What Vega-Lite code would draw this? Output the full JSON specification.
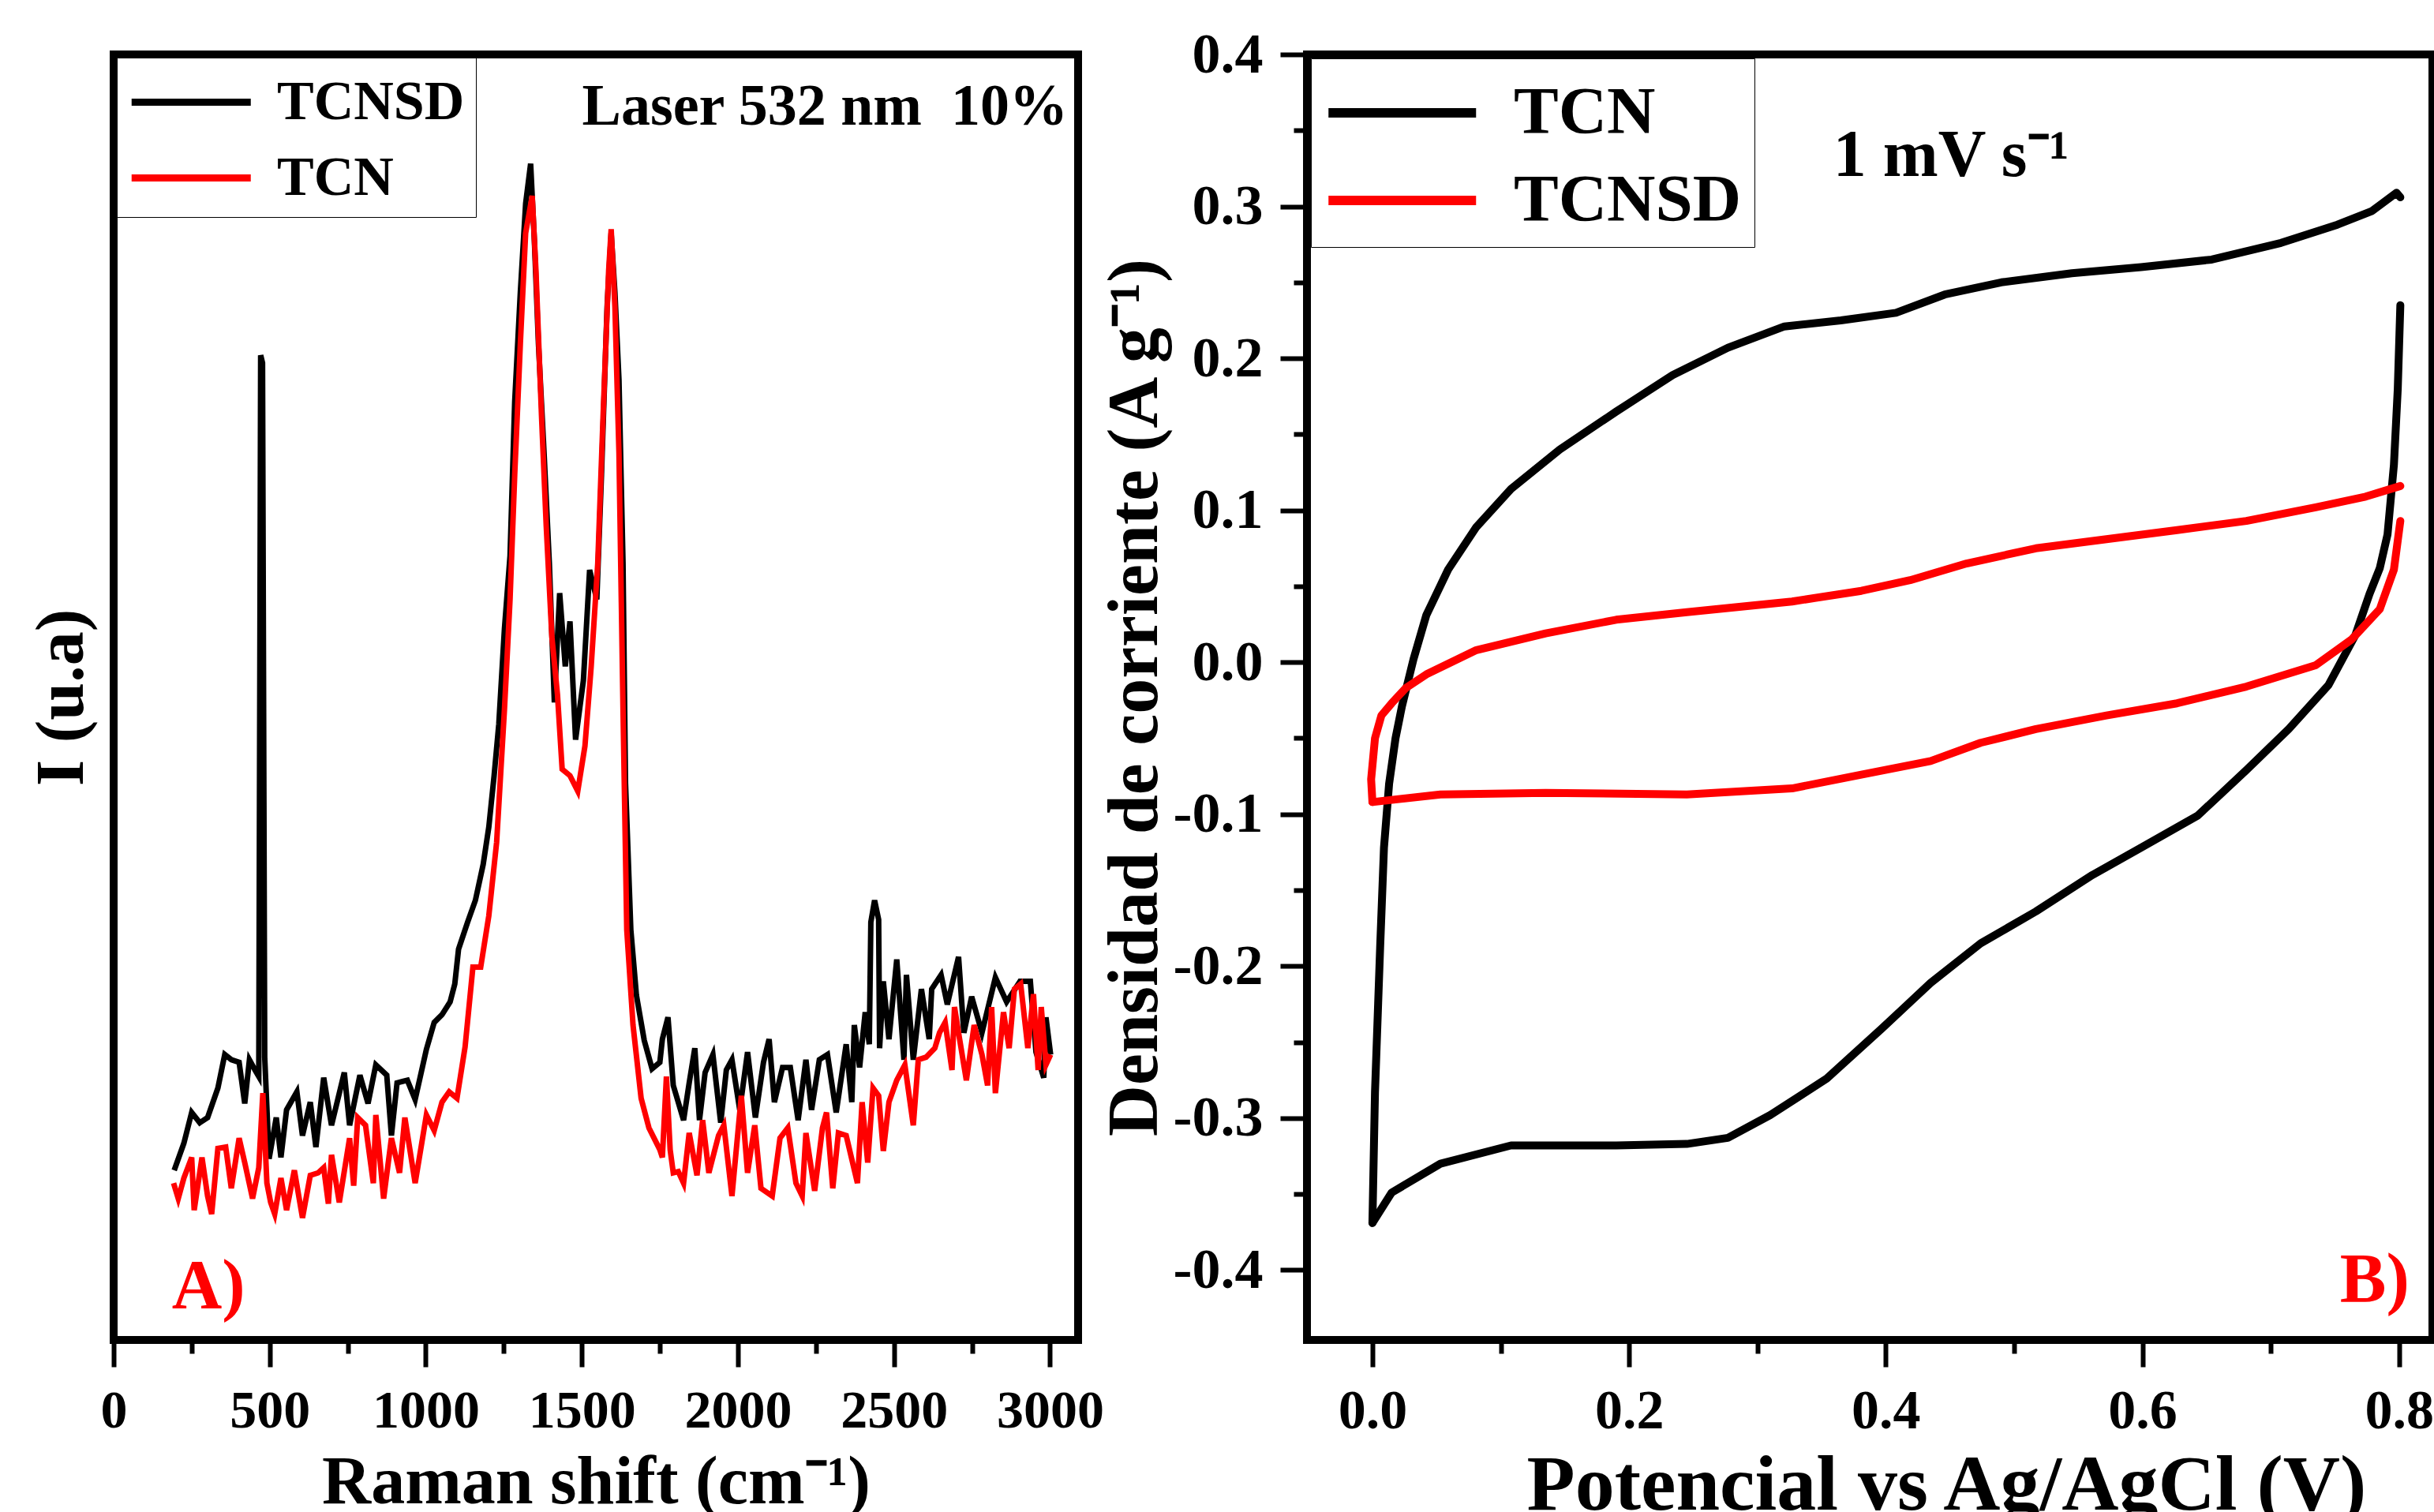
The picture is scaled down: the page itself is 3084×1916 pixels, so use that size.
{
  "$schema": "https://vega.github.io/schema/vega-lite/v6.json",
  "background": "white",
  "padding": {"left": 30, "top": 28, "right": 0, "bottom": 0},
  "spacing": -16,
  "datasets": {
    "raman": [
      {"s":"TCNSD","x":194,"y":13.2},{"s":"TCNSD","x":225,"y":15.3},{"s":"TCNSD","x":250,"y":17.7},{"s":"TCNSD","x":276,"y":16.9},{"s":"TCNSD","x":301,"y":17.3},{"s":"TCNSD","x":334,"y":19.6},{"s":"TCNSD","x":356,"y":22.2},{"s":"TCNSD","x":377,"y":21.8},{"s":"TCNSD","x":402,"y":21.6},{"s":"TCNSD","x":420,"y":18.4},{"s":"TCNSD","x":435,"y":21.8},{"s":"TCNSD","x":453,"y":21.0},{"s":"TCNSD","x":465,"y":20.5},{"s":"TCNSD","x":471,"y":76.6},{"s":"TCNSD","x":477,"y":76.0},{"s":"TCNSD","x":484,"y":22.0},{"s":"TCNSD","x":498,"y":14.1},{"s":"TCNSD","x":521,"y":17.3},{"s":"TCNSD","x":536,"y":14.2},{"s":"TCNSD","x":554,"y":17.9},{"s":"TCNSD","x":587,"y":19.3},{"s":"TCNSD","x":605,"y":15.9},{"s":"TCNSD","x":630,"y":18.5},{"s":"TCNSD","x":648,"y":15.0},{"s":"TCNSD","x":673,"y":20.4},{"s":"TCNSD","x":698,"y":16.7},{"s":"TCNSD","x":739,"y":20.8},{"s":"TCNSD","x":756,"y":16.7},{"s":"TCNSD","x":789,"y":20.6},{"s":"TCNSD","x":815,"y":18.4},{"s":"TCNSD","x":840,"y":21.4},{"s":"TCNSD","x":875,"y":20.6},{"s":"TCNSD","x":890,"y":15.9},{"s":"TCNSD","x":908,"y":20.0},{"s":"TCNSD","x":941,"y":20.2},{"s":"TCNSD","x":966,"y":18.7},{"s":"TCNSD","x":1002,"y":22.6},{"s":"TCNSD","x":1027,"y":24.7},{"s":"TCNSD","x":1052,"y":25.3},{"s":"TCNSD","x":1078,"y":26.3},{"s":"TCNSD","x":1093,"y":27.7},{"s":"TCNSD","x":1105,"y":30.4},{"s":"TCNSD","x":1134,"y":32.5},{"s":"TCNSD","x":1159,"y":34.2},{"s":"TCNSD","x":1184,"y":37.0},{"s":"TCNSD","x":1202,"y":39.9},{"s":"TCNSD","x":1219,"y":43.9},{"s":"TCNSD","x":1234,"y":47.9},{"s":"TCNSD","x":1252,"y":55.3},{"s":"TCNSD","x":1270,"y":61.0},{"s":"TCNSD","x":1285,"y":73.0},{"s":"TCNSD","x":1303,"y":81.5},{"s":"TCNSD","x":1320,"y":88.4},{"s":"TCNSD","x":1336,"y":91.5},{"s":"TCNSD","x":1348,"y":85.5},{"s":"TCNSD","x":1361,"y":77.5},{"s":"TCNSD","x":1379,"y":69.0},{"s":"TCNSD","x":1396,"y":60.4},{"s":"TCNSD","x":1412,"y":49.6},{"s":"TCNSD","x":1429,"y":58.1},{"s":"TCNSD","x":1447,"y":52.4},{"s":"TCNSD","x":1462,"y":55.9},{"s":"TCNSD","x":1480,"y":46.7},{"s":"TCNSD","x":1505,"y":51.3},{"s":"TCNSD","x":1525,"y":59.9},{"s":"TCNSD","x":1548,"y":57.6},{"s":"TCNSD","x":1563,"y":67.3},{"s":"TCNSD","x":1581,"y":80.4},{"s":"TCNSD","x":1594,"y":86.1},{"s":"TCNSD","x":1606,"y":81.5},{"s":"TCNSD","x":1619,"y":74.7},{"s":"TCNSD","x":1632,"y":60.4},{"s":"TCNSD","x":1640,"y":43.3},{"s":"TCNSD","x":1657,"y":31.9},{"s":"TCNSD","x":1675,"y":26.8},{"s":"TCNSD","x":1700,"y":23.3},{"s":"TCNSD","x":1725,"y":21.1},{"s":"TCNSD","x":1750,"y":21.6},{"s":"TCNSD","x":1758,"y":23.4},{"s":"TCNSD","x":1776,"y":25.1},{"s":"TCNSD","x":1793,"y":19.8},{"s":"TCNSD","x":1826,"y":17.1},{"s":"TCNSD","x":1844,"y":20.0},{"s":"TCNSD","x":1862,"y":22.7},{"s":"TCNSD","x":1877,"y":17.1},{"s":"TCNSD","x":1895,"y":20.8},{"s":"TCNSD","x":1920,"y":22.2},{"s":"TCNSD","x":1945,"y":16.9},{"s":"TCNSD","x":1963,"y":21.0},{"s":"TCNSD","x":1981,"y":21.8},{"s":"TCNSD","x":2006,"y":17.9},{"s":"TCNSD","x":2031,"y":22.4},{"s":"TCNSD","x":2056,"y":17.3},{"s":"TCNSD","x":2082,"y":21.6},{"s":"TCNSD","x":2100,"y":23.4},{"s":"TCNSD","x":2117,"y":18.5},{"s":"TCNSD","x":2143,"y":21.2},{"s":"TCNSD","x":2168,"y":21.2},{"s":"TCNSD","x":2193,"y":17.1},{"s":"TCNSD","x":2218,"y":21.8},{"s":"TCNSD","x":2236,"y":17.9},{"s":"TCNSD","x":2261,"y":21.8},{"s":"TCNSD","x":2287,"y":22.2},{"s":"TCNSD","x":2315,"y":17.7},{"s":"TCNSD","x":2347,"y":23.0},{"s":"TCNSD","x":2365,"y":18.5},{"s":"TCNSD","x":2373,"y":24.5},{"s":"TCNSD","x":2390,"y":21.2},{"s":"TCNSD","x":2408,"y":25.5},{"s":"TCNSD","x":2421,"y":23.0},{"s":"TCNSD","x":2426,"y":32.5},{"s":"TCNSD","x":2438,"y":34.2},{"s":"TCNSD","x":2451,"y":32.7},{"s":"TCNSD","x":2454,"y":22.7},{"s":"TCNSD","x":2466,"y":27.9},{"s":"TCNSD","x":2484,"y":23.4},{"s":"TCNSD","x":2509,"y":29.6},{"s":"TCNSD","x":2532,"y":21.8},{"s":"TCNSD","x":2540,"y":28.4},{"s":"TCNSD","x":2562,"y":21.8},{"s":"TCNSD","x":2588,"y":27.3},{"s":"TCNSD","x":2613,"y":23.4},{"s":"TCNSD","x":2621,"y":27.3},{"s":"TCNSD","x":2651,"y":28.4},{"s":"TCNSD","x":2671,"y":26.1},{"s":"TCNSD","x":2707,"y":29.8},{"s":"TCNSD","x":2724,"y":23.9},{"s":"TCNSD","x":2749,"y":26.7},{"s":"TCNSD","x":2782,"y":23.9},{"s":"TCNSD","x":2825,"y":28.2},{"s":"TCNSD","x":2861,"y":26.3},{"s":"TCNSD","x":2904,"y":27.9},{"s":"TCNSD","x":2937,"y":27.9},{"s":"TCNSD","x":2955,"y":22.4},{"s":"TCNSD","x":2980,"y":20.4},{"s":"TCNSD","x":2987,"y":25.1},{"s":"TCNSD","x":3002,"y":22.2},
      {"s":"TCN","x":192,"y":12.2},{"s":"TCN","x":207,"y":11.0},{"s":"TCN","x":225,"y":12.6},{"s":"TCN","x":250,"y":14.2},{"s":"TCN","x":258,"y":10.1},{"s":"TCN","x":283,"y":14.2},{"s":"TCN","x":301,"y":11.2},{"s":"TCN","x":314,"y":9.8},{"s":"TCN","x":334,"y":14.9},{"s":"TCN","x":359,"y":15.0},{"s":"TCN","x":377,"y":11.8},{"s":"TCN","x":402,"y":15.7},{"s":"TCN","x":420,"y":13.8},{"s":"TCN","x":445,"y":11.0},{"s":"TCN","x":465,"y":13.4},{"s":"TCN","x":478,"y":19.2},{"s":"TCN","x":491,"y":12.2},{"s":"TCN","x":503,"y":10.7},{"s":"TCN","x":516,"y":9.8},{"s":"TCN","x":536,"y":12.6},{"s":"TCN","x":554,"y":10.1},{"s":"TCN","x":579,"y":13.2},{"s":"TCN","x":605,"y":9.5},{"s":"TCN","x":630,"y":12.8},{"s":"TCN","x":655,"y":13.0},{"s":"TCN","x":673,"y":13.4},{"s":"TCN","x":688,"y":10.6},{"s":"TCN","x":698,"y":14.4},{"s":"TCN","x":723,"y":10.7},{"s":"TCN","x":756,"y":15.7},{"s":"TCN","x":769,"y":12.0},{"s":"TCN","x":782,"y":17.3},{"s":"TCN","x":807,"y":16.7},{"s":"TCN","x":832,"y":12.2},{"s":"TCN","x":840,"y":17.5},{"s":"TCN","x":865,"y":11.0},{"s":"TCN","x":890,"y":15.7},{"s":"TCN","x":916,"y":13.0},{"s":"TCN","x":933,"y":17.3},{"s":"TCN","x":966,"y":12.2},{"s":"TCN","x":1002,"y":17.5},{"s":"TCN","x":1027,"y":16.3},{"s":"TCN","x":1052,"y":18.5},{"s":"TCN","x":1075,"y":19.3},{"s":"TCN","x":1100,"y":18.8},{"s":"TCN","x":1126,"y":22.8},{"s":"TCN","x":1151,"y":29.0},{"s":"TCN","x":1176,"y":29.0},{"s":"TCN","x":1202,"y":33.0},{"s":"TCN","x":1227,"y":38.7},{"s":"TCN","x":1252,"y":49.0},{"s":"TCN","x":1270,"y":57.6},{"s":"TCN","x":1285,"y":67.3},{"s":"TCN","x":1303,"y":77.5},{"s":"TCN","x":1320,"y":86.1},{"s":"TCN","x":1341,"y":89.0},{"s":"TCN","x":1353,"y":83.2},{"s":"TCN","x":1371,"y":71.8},{"s":"TCN","x":1386,"y":63.3},{"s":"TCN","x":1404,"y":54.7},{"s":"TCN","x":1422,"y":50.2},{"s":"TCN","x":1437,"y":44.4},{"s":"TCN","x":1462,"y":43.9},{"s":"TCN","x":1487,"y":42.7},{"s":"TCN","x":1510,"y":46.2},{"s":"TCN","x":1530,"y":52.4},{"s":"TCN","x":1551,"y":60.4},{"s":"TCN","x":1568,"y":71.8},{"s":"TCN","x":1586,"y":83.2},{"s":"TCN","x":1594,"y":86.4},{"s":"TCN","x":1606,"y":80.4},{"s":"TCN","x":1619,"y":69.0},{"s":"TCN","x":1632,"y":49.0},{"s":"TCN","x":1644,"y":31.9},{"s":"TCN","x":1664,"y":24.5},{"s":"TCN","x":1690,"y":18.8},{"s":"TCN","x":1715,"y":16.5},{"s":"TCN","x":1750,"y":14.8},{"s":"TCN","x":1758,"y":14.2},{"s":"TCN","x":1771,"y":20.5},{"s":"TCN","x":1783,"y":14.8},{"s":"TCN","x":1793,"y":13.0},{"s":"TCN","x":1809,"y":13.1},{"s":"TCN","x":1826,"y":12.2},{"s":"TCN","x":1844,"y":16.1},{"s":"TCN","x":1869,"y":12.8},{"s":"TCN","x":1887,"y":17.1},{"s":"TCN","x":1907,"y":13.0},{"s":"TCN","x":1938,"y":15.9},{"s":"TCN","x":1955,"y":16.7},{"s":"TCN","x":1981,"y":11.2},{"s":"TCN","x":2011,"y":19.0},{"s":"TCN","x":2031,"y":13.0},{"s":"TCN","x":2054,"y":16.7},{"s":"TCN","x":2074,"y":11.8},{"s":"TCN","x":2110,"y":11.2},{"s":"TCN","x":2135,"y":15.7},{"s":"TCN","x":2160,"y":16.5},{"s":"TCN","x":2186,"y":12.2},{"s":"TCN","x":2206,"y":11.2},{"s":"TCN","x":2218,"y":16.1},{"s":"TCN","x":2246,"y":11.6},{"s":"TCN","x":2271,"y":16.5},{"s":"TCN","x":2284,"y":17.7},{"s":"TCN","x":2304,"y":11.8},{"s":"TCN","x":2322,"y":16.1},{"s":"TCN","x":2347,"y":15.9},{"s":"TCN","x":2383,"y":12.2},{"s":"TCN","x":2398,"y":18.5},{"s":"TCN","x":2416,"y":13.8},{"s":"TCN","x":2433,"y":19.6},{"s":"TCN","x":2451,"y":19.0},{"s":"TCN","x":2466,"y":14.7},{"s":"TCN","x":2484,"y":18.5},{"s":"TCN","x":2509,"y":20.2},{"s":"TCN","x":2535,"y":21.4},{"s":"TCN","x":2562,"y":16.7},{"s":"TCN","x":2578,"y":21.8},{"s":"TCN","x":2603,"y":22.0},{"s":"TCN","x":2631,"y":22.7},{"s":"TCN","x":2646,"y":23.9},{"s":"TCN","x":2664,"y":24.7},{"s":"TCN","x":2686,"y":21.0},{"s":"TCN","x":2694,"y":25.9},{"s":"TCN","x":2707,"y":23.9},{"s":"TCN","x":2732,"y":20.2},{"s":"TCN","x":2757,"y":24.5},{"s":"TCN","x":2782,"y":22.2},{"s":"TCN","x":2800,"y":19.8},{"s":"TCN","x":2813,"y":25.9},{"s":"TCN","x":2825,"y":19.2},{"s":"TCN","x":2851,"y":25.5},{"s":"TCN","x":2869,"y":22.7},{"s":"TCN","x":2886,"y":27.3},{"s":"TCN","x":2906,"y":27.7},{"s":"TCN","x":2929,"y":22.7},{"s":"TCN","x":2947,"y":26.9},{"s":"TCN","x":2962,"y":21.0},{"s":"TCN","x":2972,"y":25.9},{"s":"TCN","x":2987,"y":21.4},{"s":"TCN","x":3002,"y":22.2}
    ],
    "cv": [
      {"s":"TCN","seg":1,"i":1,"v":0.000,"j":-0.369},{"s":"TCN","seg":1,"i":2,"v":0.002,"j":-0.283},{"s":"TCN","seg":1,"i":3,"v":0.006,"j":-0.188},{"s":"TCN","seg":1,"i":4,"v":0.009,"j":-0.122},{"s":"TCN","seg":1,"i":5,"v":0.013,"j":-0.080},{"s":"TCN","seg":1,"i":6,"v":0.018,"j":-0.050},{"s":"TCN","seg":1,"i":7,"v":0.023,"j":-0.029},{"s":"TCN","seg":1,"i":8,"v":0.032,"j":0.002},{"s":"TCN","seg":1,"i":9,"v":0.042,"j":0.031},{"s":"TCN","seg":1,"i":10,"v":0.059,"j":0.061},{"s":"TCN","seg":1,"i":11,"v":0.081,"j":0.089},{"s":"TCN","seg":1,"i":12,"v":0.108,"j":0.114},{"s":"TCN","seg":1,"i":13,"v":0.146,"j":0.140},{"s":"TCN","seg":1,"i":14,"v":0.190,"j":0.165},{"s":"TCN","seg":1,"i":15,"v":0.234,"j":0.189},{"s":"TCN","seg":1,"i":16,"v":0.277,"j":0.207},{"s":"TCN","seg":1,"i":17,"v":0.321,"j":0.221},{"s":"TCN","seg":1,"i":18,"v":0.365,"j":0.225},{"s":"TCN","seg":1,"i":19,"v":0.408,"j":0.230},{"s":"TCN","seg":1,"i":20,"v":0.446,"j":0.242},{"s":"TCN","seg":1,"i":21,"v":0.490,"j":0.250},{"s":"TCN","seg":1,"i":22,"v":0.545,"j":0.256},{"s":"TCN","seg":1,"i":23,"v":0.599,"j":0.260},{"s":"TCN","seg":1,"i":24,"v":0.654,"j":0.265},{"s":"TCN","seg":1,"i":25,"v":0.708,"j":0.276},{"s":"TCN","seg":1,"i":26,"v":0.752,"j":0.288},{"s":"TCN","seg":1,"i":27,"v":0.779,"j":0.297},{"s":"TCN","seg":1,"i":28,"v":0.798,"j":0.309},{"s":"TCN","seg":1,"i":29,"v":0.801,"j":0.306},
      {"s":"TCN","seg":2,"i":30,"v":0.801,"j":0.235},{"s":"TCN","seg":2,"i":31,"v":0.799,"j":0.180},{"s":"TCN","seg":2,"i":32,"v":0.796,"j":0.130},{"s":"TCN","seg":2,"i":33,"v":0.791,"j":0.084},{"s":"TCN","seg":2,"i":34,"v":0.785,"j":0.062},{"s":"TCN","seg":2,"i":35,"v":0.777,"j":0.045},{"s":"TCN","seg":2,"i":36,"v":0.766,"j":0.018},{"s":"TCN","seg":2,"i":37,"v":0.745,"j":-0.015},{"s":"TCN","seg":2,"i":38,"v":0.714,"j":-0.044},{"s":"TCN","seg":2,"i":39,"v":0.681,"j":-0.071},{"s":"TCN","seg":2,"i":40,"v":0.643,"j":-0.101},{"s":"TCN","seg":2,"i":41,"v":0.599,"j":-0.122},{"s":"TCN","seg":2,"i":42,"v":0.561,"j":-0.140},{"s":"TCN","seg":2,"i":43,"v":0.517,"j":-0.164},{"s":"TCN","seg":2,"i":44,"v":0.474,"j":-0.185},{"s":"TCN","seg":2,"i":45,"v":0.435,"j":-0.211},{"s":"TCN","seg":2,"i":46,"v":0.397,"j":-0.241},{"s":"TCN","seg":2,"i":47,"v":0.354,"j":-0.274},{"s":"TCN","seg":2,"i":48,"v":0.310,"j":-0.298},{"s":"TCN","seg":2,"i":49,"v":0.277,"j":-0.313},{"s":"TCN","seg":2,"i":50,"v":0.245,"j":-0.317},{"s":"TCN","seg":2,"i":51,"v":0.190,"j":-0.318},{"s":"TCN","seg":2,"i":52,"v":0.108,"j":-0.318},{"s":"TCN","seg":2,"i":53,"v":0.053,"j":-0.330},{"s":"TCN","seg":2,"i":54,"v":0.015,"j":-0.349},{"s":"TCN","seg":2,"i":55,"v":0.000,"j":-0.369},
      {"s":"TCNSD","seg":3,"i":56,"v":0.000,"j":-0.092},{"s":"TCNSD","seg":3,"i":57,"v":-0.001,"j":-0.077},{"s":"TCNSD","seg":3,"i":58,"v":0.002,"j":-0.050},{"s":"TCNSD","seg":3,"i":59,"v":0.007,"j":-0.035},{"s":"TCNSD","seg":3,"i":60,"v":0.015,"j":-0.027},{"s":"TCNSD","seg":3,"i":61,"v":0.026,"j":-0.017},{"s":"TCNSD","seg":3,"i":62,"v":0.042,"j":-0.008},{"s":"TCNSD","seg":3,"i":63,"v":0.081,"j":0.008},{"s":"TCNSD","seg":3,"i":64,"v":0.135,"j":0.019},{"s":"TCNSD","seg":3,"i":65,"v":0.190,"j":0.028},{"s":"TCNSD","seg":3,"i":66,"v":0.245,"j":0.033},{"s":"TCNSD","seg":3,"i":67,"v":0.327,"j":0.040},{"s":"TCNSD","seg":3,"i":68,"v":0.381,"j":0.047},{"s":"TCNSD","seg":3,"i":69,"v":0.419,"j":0.054},{"s":"TCNSD","seg":3,"i":70,"v":0.463,"j":0.065},{"s":"TCNSD","seg":3,"i":71,"v":0.517,"j":0.075},{"s":"TCNSD","seg":3,"i":72,"v":0.572,"j":0.081},{"s":"TCNSD","seg":3,"i":73,"v":0.627,"j":0.087},{"s":"TCNSD","seg":3,"i":74,"v":0.681,"j":0.093},{"s":"TCNSD","seg":3,"i":75,"v":0.735,"j":0.102},{"s":"TCNSD","seg":3,"i":76,"v":0.774,"j":0.109},{"s":"TCNSD","seg":3,"i":77,"v":0.801,"j":0.116},
      {"s":"TCNSD","seg":4,"i":78,"v":0.801,"j":0.093},{"s":"TCNSD","seg":4,"i":79,"v":0.796,"j":0.061},{"s":"TCNSD","seg":4,"i":80,"v":0.785,"j":0.035},{"s":"TCNSD","seg":4,"i":81,"v":0.763,"j":0.015},{"s":"TCNSD","seg":4,"i":82,"v":0.735,"j":-0.002},{"s":"TCNSD","seg":4,"i":83,"v":0.681,"j":-0.016},{"s":"TCNSD","seg":4,"i":84,"v":0.627,"j":-0.027},{"s":"TCNSD","seg":4,"i":85,"v":0.572,"j":-0.035},{"s":"TCNSD","seg":4,"i":86,"v":0.517,"j":-0.044},{"s":"TCNSD","seg":4,"i":87,"v":0.474,"j":-0.053},{"s":"TCNSD","seg":4,"i":88,"v":0.435,"j":-0.065},{"s":"TCNSD","seg":4,"i":89,"v":0.381,"j":-0.074},{"s":"TCNSD","seg":4,"i":90,"v":0.327,"j":-0.083},{"s":"TCNSD","seg":4,"i":91,"v":0.245,"j":-0.087},{"s":"TCNSD","seg":4,"i":92,"v":0.135,"j":-0.086},{"s":"TCNSD","seg":4,"i":93,"v":0.053,"j":-0.087},{"s":"TCNSD","seg":4,"i":94,"v":0.000,"j":-0.092}
    ]
  },
  "config": {
    "view": {"stroke": "black", "strokeWidth": 10},
    "font": "Liberation Serif",
    "axis": {
      "labelFont": "Liberation Serif", "labelFontWeight": "bold", "labelColor": "black",
      "titleFont": "Liberation Serif", "titleFontWeight": "bold", "titleColor": "black",
      "tickColor": "black", "tickWidth": 6, "grid": false, "domain": false, "labelFlush": false, "labelOverlap": false
    },
    "legend": {
      "labelFont": "Liberation Serif", "labelFontWeight": "bold", "labelColor": "black",
      "strokeColor": "black", "fillColor": "white", "labelLimit": 0,
      "symbolType": "M-1,0H3"
    }
  },
  "resolve": {"scale": {"color": "independent"}, "legend": {"color": "independent"}},
  "hconcat": [
    {
      "width": 1222,
      "height": 1629,
      "layer": [
        {
          "data": {"name": "raman"},
          "mark": {"type": "line", "strokeWidth": 7, "clip": true},
          "encoding": {
            "x": {
              "field": "x", "type": "quantitative",
              "scale": {"domain": [0, 3090], "nice": false, "zero": false},
              "axis": {
                "values": [0,250,500,750,1000,1250,1500,1750,2000,2250,2500,2750,3000],
                "format": "d",
                "labelExpr": "datum.value % 500 == 0 ? datum.label : ''",
                "tickSize": {"condition": {"test": "datum.value % 500 == 0", "value": 34}, "value": 17},
                "labelFontSize": 68, "labelPadding": 22,
                "title": "Raman shift (cm⁻¹)", "titleFontSize": 86, "titlePadding": 14
              }
            },
            "y": {
              "field": "y", "type": "quantitative",
              "scale": {"domain": [0, 100], "nice": false, "zero": false},
              "axis": {"labels": false, "ticks": false, "title": "I (u.a)", "titleFontSize": 86, "titlePadding": 22}
            },
            "color": {
              "field": "s", "type": "nominal",
              "scale": {"domain": ["TCNSD", "TCN"], "range": ["#000000", "#ff0000"]},
              "legend": {
                "orient": "top-left", "title": null, "offset": 4, "padding": 14,
                "symbolSize": 5700, "symbolStrokeWidth": 9, "labelFontSize": 70,
                "labelOffset": 104, "rowPadding": 18
              }
            }
          }
        },
        {
          "data": {"values": [{"t": "Laser 532 nm\u00a0\u00a010%"}]},
          "mark": {"type": "text", "font": "Liberation Serif", "fontWeight": "bold", "fontSize": 74, "align": "center", "baseline": "middle", "color": "black"},
          "encoding": {
            "x": {"datum": 2279, "type": "quantitative"},
            "y": {"datum": 95.9, "type": "quantitative"},
            "text": {"field": "t"}
          }
        },
        {
          "data": {"values": [{"t": "A)"}]},
          "mark": {"type": "text", "font": "Liberation Serif", "fontWeight": "bold", "fontSize": 88, "align": "center", "baseline": "middle", "color": "#ff0000"},
          "encoding": {
            "x": {"datum": 304, "type": "quantitative"},
            "y": {"datum": 4.1, "type": "quantitative"},
            "text": {"field": "t"}
          }
        }
      ]
    },
    {
      "width": 1426,
      "height": 1629,
      "layer": [
        {
          "data": {"name": "cv"},
          "mark": {"type": "line", "strokeWidth": 10, "clip": true, "strokeJoin": "round", "strokeCap": "round"},
          "encoding": {
            "x": {
              "field": "v", "type": "quantitative",
              "scale": {"domain": [-0.051, 0.826], "nice": false, "zero": false},
              "axis": {
                "values": [0,0.1,0.2,0.3,0.4,0.5,0.6,0.7,0.8],
                "labelExpr": "abs(round(datum.value*10)) % 2 == 0 ? format(datum.value, '.1f') : ''",
                "tickSize": {"condition": {"test": "abs(round(datum.value*10)) % 2 == 0", "value": 34}, "value": 17},
                "labelFontSize": 70, "labelPadding": 22,
                "title": "Potencial vs Ag/AgCl (V)", "titleFontSize": 100, "titlePadding": 10, "titleX": 810
              }
            },
            "y": {
              "field": "j", "type": "quantitative",
              "scale": {"domain": [-0.446, 0.4], "nice": false, "zero": false},
              "axis": {
                "values": [-0.4,-0.35,-0.3,-0.25,-0.2,-0.15,-0.1,-0.05,0,0.05,0.1,0.15,0.2,0.25,0.3,0.35,0.4],
                "labelExpr": "abs(round(datum.value*20)) % 2 == 0 ? replace(format(datum.value, '.1f'), '−', '-') : ''",
                "tickSize": {"condition": {"test": "abs(round(datum.value*20)) % 2 == 0", "value": 34}, "value": 17},
                "labelFontSize": 72, "labelPadding": 22,
                "title": "Densidad de corriente (A g⁻¹)", "titleFontSize": 90, "titlePadding": 2
              }
            },
            "color": {
              "field": "s", "type": "nominal",
              "scale": {"domain": ["TCN", "TCNSD"], "range": ["#000000", "#ff0000"]},
              "legend": {
                "orient": "top-left", "title": null, "offset": 5, "padding": 16,
                "symbolSize": 8742, "symbolStrokeWidth": 12, "labelFontSize": 85,
                "labelOffset": 135, "rowPadding": 15
              }
            },
            "detail": {"field": "seg", "type": "nominal"},
            "order": {"field": "i", "type": "quantitative"}
          }
        },
        {
          "data": {"values": [{"t": "1 mV s⁻¹"}]},
          "mark": {"type": "text", "font": "Liberation Serif", "fontWeight": "bold", "fontSize": 84, "align": "center", "baseline": "middle", "color": "black"},
          "encoding": {
            "x": {"datum": 0.451, "type": "quantitative"},
            "y": {"datum": 0.333, "type": "quantitative"},
            "text": {"field": "t"}
          }
        },
        {
          "data": {"values": [{"t": "B)"}]},
          "mark": {"type": "text", "font": "Liberation Serif", "fontWeight": "bold", "fontSize": 88, "align": "center", "baseline": "middle", "color": "#ff0000"},
          "encoding": {
            "x": {"datum": 0.781, "type": "quantitative"},
            "y": {"datum": -0.407, "type": "quantitative"},
            "text": {"field": "t"}
          }
        }
      ]
    }
  ]
}
